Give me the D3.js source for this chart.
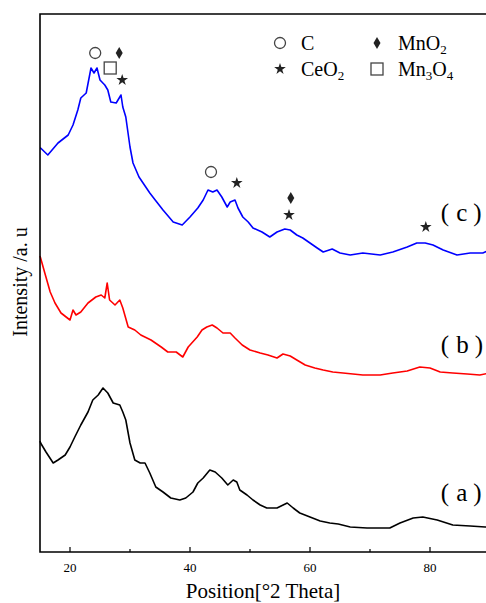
<!DOCTYPE html>
<html>
<head>
<meta charset="utf-8">
<script src="https://cdn.jsdelivr.net/npm/d3@7"></script>
<style>
  body { margin: 0; background: #fff; }
  svg { display: block; font-family: 'Liberation Serif', 'Times New Roman', serif; }
</style>
</head>
<body>
<div id="chart"></div>
<script>
// [2theta, intensity (a.u.)]
const patternA = [
  [15, 112], [15.1, 110], [16, 101], [17.2, 90], [18, 93], [19.2, 98], [20, 106], [20.8, 116],
  [21.8, 128], [23, 141], [23.8, 153], [24.7, 158], [25.5, 165], [26.3, 160], [27.2, 150],
  [28.3, 148], [28.8, 141], [29.3, 133], [30, 110], [30.8, 93], [31.7, 90], [32.5, 90],
  [33.3, 80], [34.3, 66], [35.5, 61], [36.8, 55], [38.3, 53], [39.3, 55], [40.5, 61],
  [41.3, 70], [42.2, 75], [43.3, 83], [44.2, 81], [45.3, 75], [46.3, 68], [47.2, 73],
  [47.8, 71], [48.3, 63], [49.5, 58], [50.5, 53], [51.7, 48], [52.8, 45], [54.5, 45],
  [56.2, 50], [57.2, 45], [58.3, 40], [60, 36], [61.7, 32], [63.3, 30], [64.7, 29],
  [66.7, 26], [69.5, 25], [73.3, 25], [75, 30], [77.2, 35], [78.8, 36], [81.2, 33],
  [83.8, 28], [86.7, 27], [89.2, 26], [90, 26]
];
const patternB = [
  [15, 297], [15.1, 295], [15.8, 280], [16.7, 261], [17.5, 250], [18.5, 240], [20, 233],
  [20.5, 243], [21, 238], [21.8, 241], [23, 250], [24.3, 256], [25.2, 258], [25.8, 255],
  [26.2, 270], [26.6, 253], [27.5, 248], [28.3, 253], [28.8, 245], [29.7, 226], [30.8, 223],
  [31.8, 218], [33.5, 213], [35.2, 206], [36.3, 201], [37.7, 201], [38.8, 196], [39.7, 206],
  [41.2, 216], [42, 223], [42.8, 226], [43.7, 228], [44.5, 225], [45.5, 220], [46.7, 220],
  [47.5, 215], [48.7, 208], [50, 203], [51.7, 200], [53, 198], [54.5, 195], [55.5, 199],
  [56.7, 197], [57.8, 193], [59.2, 188], [60.8, 185], [62.2, 183], [63.8, 181], [65.5, 180],
  [68.8, 178], [71.7, 178], [73.8, 180], [76.2, 182], [78.3, 186], [80, 185], [81.7, 181],
  [83.8, 180], [86.2, 179], [88.3, 178], [90, 180]
];
const patternC = [
  [15, 405], [15.1, 405], [16.3, 398], [18, 410], [19.7, 418], [20.5, 428], [21.3, 443],
  [21.8, 455], [22.7, 460], [23.5, 485], [24, 480], [24.5, 485], [25, 473], [25.8, 468],
  [26.3, 463], [26.8, 451], [27.7, 450], [28.5, 458], [28.8, 446], [29.3, 436], [30, 406],
  [30.5, 390], [31.5, 376], [33.3, 360], [34.2, 353], [35.5, 343], [37.2, 331], [38.7, 328],
  [40, 336], [41.3, 345], [42.2, 353], [43, 363], [43.8, 361], [44.5, 363], [45.3, 356],
  [46.2, 346], [46.7, 351], [47.5, 353], [48, 345], [48.8, 336], [49.7, 331], [50.5, 325],
  [52, 321], [53.3, 316], [54.5, 321], [55.8, 324], [56.7, 323], [57.8, 318], [58.8, 315],
  [60, 310], [61.2, 305], [62.2, 301], [63.7, 304], [65, 300], [66.7, 298], [68.8, 300],
  [71.7, 298], [73.8, 301], [76.2, 306], [77.8, 310], [79.2, 310], [80.5, 308], [82.2, 303],
  [84.5, 298], [86.7, 300], [88.8, 300], [90, 303]
];

const seriesNames = ['a', 'b', 'c'];
const seriesColors = ['#000000', '#ff0000', '#0000ff'];
// label anchor [2theta, intensity] (left paren position)
const seriesLabelPos = [[81.8, 52], [81.8, 200], [81.8, 332]];

// phase markers on pattern (c): [type, 2theta, intensity]
const phaseMarks = [
  ['C', 24.2, 500], ['MnO2', 28.2, 500], ['Mn3O4', 26.7, 485], ['CeO2', 28.7, 473],
  ['C', 43.5, 381], ['CeO2', 47.8, 370], ['MnO2', 56.8, 355], ['CeO2', 56.5, 338],
  ['CeO2', 79.3, 326]
];

const xTicks = [20, 40, 60, 80];
const xMinorTicks = [30, 50, 70];

const W = 486;
const H = 603;
const margin = { top: 14, left: 40, bottom: 51 };

const scaleX = d3.scaleLinear().domain([15, 90]).range([margin.left, 490]);
const scaleY = d3.scaleLinear().domain([0, 540]).range([553, 13]);

const $svg = d3.select('#chart').append('svg')
  .attr('width', W)
  .attr('height', H);

const line = d3.line()
  .x(d => scaleX(d[0]))
  .y(d => scaleY(d[1]))
  .curve(d3.curveLinear);

// curves
const $curves = $svg.append('g').attr('class', 'g-curves');
[patternA, patternB, patternC].forEach((pat, i) => {
  $curves.append('path')
    .datum(pat)
    .attr('d', line)
    .attr('fill', 'none')
    .attr('stroke', seriesColors[i])
    .attr('stroke-width', 1.6)
    .attr('stroke-linejoin', 'round');
});

// frame (right side runs off the canvas)
const yBottom = H - margin.bottom;
$svg.append('path')
  .attr('d', `M${W + 5},${margin.top}H${margin.left}V${yBottom}H${W + 5}`)
  .attr('fill', 'none')
  .attr('stroke', '#000')
  .attr('stroke-width', 1.6);

// inward ticks
$svg.selectAll('.tick-major')
  .data(xTicks)
  .join('line')
  .attr('class', 'tick-major')
  .attr('x1', d => scaleX(d)).attr('x2', d => scaleX(d))
  .attr('y1', yBottom).attr('y2', yBottom - 5)
  .attr('stroke', '#000').attr('stroke-width', 1.2);

$svg.selectAll('.tick-minor')
  .data(xMinorTicks)
  .join('line')
  .attr('class', 'tick-minor')
  .attr('x1', d => scaleX(d)).attr('x2', d => scaleX(d))
  .attr('y1', yBottom).attr('y2', yBottom - 3)
  .attr('stroke', '#000').attr('stroke-width', 1.2);

$svg.selectAll('.tick-label')
  .data(xTicks)
  .join('text')
  .attr('class', 'tick-label')
  .attr('x', d => scaleX(d))
  .attr('y', 572)
  .attr('text-anchor', 'middle')
  .attr('font-size', 13)
  .text(d => d);

// axis titles
$svg.append('text')
  .attr('x', 263)
  .attr('y', 598)
  .attr('text-anchor', 'middle')
  .attr('font-size', 21)
  .text('Position[°2 Theta]');

$svg.append('text')
  .attr('transform', 'translate(27, 282) rotate(-90)')
  .attr('text-anchor', 'middle')
  .attr('font-size', 20)
  .text('Intensity /a. u');

// series labels, full-width style parentheses: （a）
const $labels = $svg.selectAll('.series-label')
  .data(seriesNames)
  .join('text')
  .attr('class', 'series-label')
  .attr('x', (d, i) => scaleX(seriesLabelPos[i][0]))
  .attr('y', (d, i) => scaleY(seriesLabelPos[i][1]))
  .attr('font-size', 25);
$labels.append('tspan').text('(');
$labels.append('tspan').attr('dx', 7).text(d => d);
$labels.append('tspan').attr('dx', 6).text(')');

// marker shapes
function drawMark($g, type, x, y) {
  if (type === 'C') {
    $g.append('circle').attr('cx', x).attr('cy', y).attr('r', 5.5)
      .attr('fill', 'none').attr('stroke', '#444').attr('stroke-width', 1.3);
  } else if (type === 'Mn3O4') {
    $g.append('rect').attr('x', x - 6).attr('y', y - 6).attr('width', 12).attr('height', 12)
      .attr('fill', 'none').attr('stroke', '#444').attr('stroke-width', 1.3);
  } else if (type === 'MnO2') {
    $g.append('path').attr('d', `M${x},${y - 6}L${x + 3.5},${y}L${x},${y + 6}L${x - 3.5},${y}Z`)
      .attr('fill', '#222');
  } else {
    $g.append('path')
      .attr('d', d3.symbol().type(d3.symbolStar).size(42)())
      .attr('transform', `translate(${x},${y})`)
      .attr('fill', '#222');
  }
}

const $marks = $svg.append('g').attr('class', 'g-marks');
phaseMarks.forEach(m => drawMark($marks, m[0], scaleX(m[1]), scaleY(m[2])));

// legend
const legendItems = [
  { type: 'C', x: 280, y: 43, label: ['C'] },
  { type: 'MnO2', x: 377, y: 43, label: ['MnO', '2'] },
  { type: 'CeO2', x: 280, y: 69, label: ['CeO', '2'] },
  { type: 'Mn3O4', x: 377, y: 69, label: ['Mn', '3', 'O', '4'] }
];
const $legend = $svg.append('g').attr('class', 'g-legend');
legendItems.forEach(item => {
  drawMark($legend, item.type, item.x, item.y);
  const $t = $legend.append('text')
    .attr('x', item.x + 21)
    .attr('y', item.y + 7)
    .attr('font-size', 20);
  item.label.forEach((s, i) => {
    const sub = i % 2 === 1;
    $t.append('tspan')
      .attr('font-size', sub ? 13 : 20)
      .attr('dy', sub ? 4 : (i > 0 ? -4 : 0))
      .text(s);
  });
});
</script>
</body>
</html>
